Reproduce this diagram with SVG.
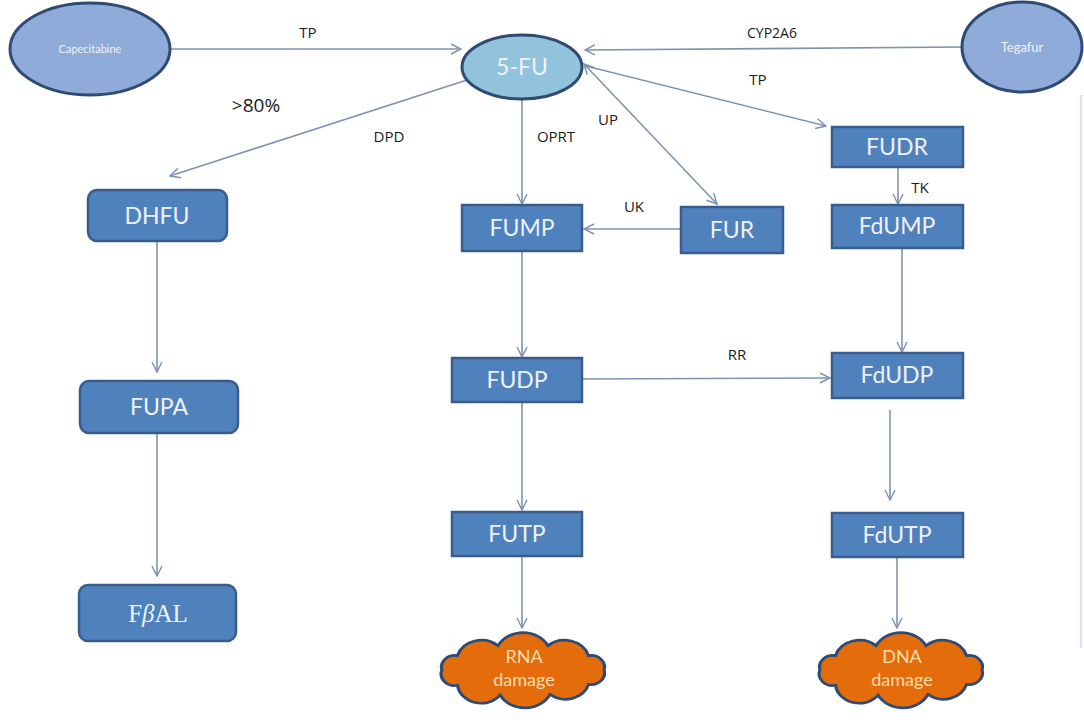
<svg xmlns="http://www.w3.org/2000/svg" width="1084" height="723" viewBox="0 0 1084 723">
<style>
.bg{fill:#ffffff}
.ell{stroke:#2f4b74;stroke-width:3}
.box{fill:#4f81bd;stroke:#385d8a;stroke-width:2.5}
.bt{font-family:Lato,"Open Sans",sans-serif;font-size:23px;fill:#eef2f8;text-anchor:middle}
.lbl{font-family:"Open Sans","Liberation Sans",sans-serif;font-size:15px;fill:#1a1a1a;text-anchor:middle}
.cn{fill:none;stroke:#7f93b0;stroke-width:1.6}
.cloud{fill:#e46c0a;stroke:#2f4b74;stroke-width:3}
.ct{font-family:Lato,"Open Sans",sans-serif;font-size:18px;fill:#f6dcae;text-anchor:middle}
</style>
<defs>
<marker id="ah" viewBox="0 0 12 12" refX="11" refY="6" markerWidth="12" markerHeight="12" markerUnits="userSpaceOnUse" orient="auto-start-reverse">
<path d="M1,1 L11,6 L1,11" fill="none" stroke="#7f93b0" stroke-width="1.5"/>
</marker>
<path id="cloudShape" d="M78,0 A13,13 0 0 1 63,16 A23,23 0 0 1 26,27 A27,27 0 0 1 -22,28 A23,23 0 0 1 -63,17 A13,13 0 0 1 -78,0 A13,13 0 0 1 -63,-16 A24,24 0 0 1 -24,-27 A27,27 0 0 1 24,-27 A24,24 0 0 1 63,-16 A13,13 0 0 1 78,0 Z"/>
</defs>
<rect class="bg" x="0" y="0" width="1084" height="723"/>
<line x1="1081" y1="95" x2="1081" y2="648" stroke="#e2def0" stroke-width="2.5"/>

<g id="connectors">
<path class="cn" d="M170,49 L461,49" marker-end="url(#ah)"/>
<path class="cn" d="M962,47 L585,50" marker-end="url(#ah)"/>
<path class="cn" d="M467,80 L170,176" marker-end="url(#ah)"/>
<path class="cn" d="M522,100 L522,204" marker-end="url(#ah)"/>
<path class="cn" d="M584,64 L717,204" marker-start="url(#ah)" marker-end="url(#ah)"/>
<path class="cn" d="M586,66 L826,126" marker-end="url(#ah)"/>
<path class="cn" d="M681,229 L584,229" marker-end="url(#ah)"/>
<path class="cn" d="M898,167 L898,204" marker-end="url(#ah)"/>
<path class="cn" d="M522,251 L522,357" marker-end="url(#ah)"/>
<path class="cn" d="M902,248 L902,352" marker-end="url(#ah)"/>
<path class="cn" d="M582,379 L830,378" marker-end="url(#ah)"/>
<path class="cn" d="M522,402 L522,510" marker-end="url(#ah)"/>
<path class="cn" d="M890,410 L890,500" marker-end="url(#ah)"/>
<path class="cn" d="M522,556 L522,628" marker-end="url(#ah)"/>
<path class="cn" d="M897,557 L897,628" marker-end="url(#ah)"/>
<path class="cn" d="M157,241 L157,372" marker-end="url(#ah)"/>
<path class="cn" d="M157,433 L157,576" marker-end="url(#ah)"/>
<text class="lbl" x="308" y="38">TP</text>
<text class="lbl" x="772" y="38" style="font-size:14px">CYP2A6</text>
<text class="lbl" x="758" y="85">TP</text>
<text class="lbl" x="256" y="112" style="font-size:19px">&gt;80%</text>
<text class="lbl" x="389" y="142">DPD</text>
<text class="lbl" x="556" y="142">OPRT</text>
<text class="lbl" x="608" y="125">UP</text>
<text class="lbl" x="634" y="212">UK</text>
<text class="lbl" x="920" y="193">TK</text>
<text class="lbl" x="737" y="360">RR</text>
</g>

<g id="capecitabine"><ellipse class="ell" cx="90" cy="49" rx="80" ry="46" fill="#8eabd9"/><text class="bt" x="90" y="53" style="font-size:11px">Capecitabine</text></g>
<g id="fu5"><ellipse class="ell" cx="522" cy="67" rx="60" ry="32" fill="#92c3dc"/><text class="bt" x="522" y="75" style="font-size:23px">5-FU</text></g>
<g id="tegafur"><ellipse class="ell" cx="1022" cy="47" rx="60" ry="45" fill="#8eabd9"/><text class="bt" x="1022" y="52" style="font-size:13px">Tegafur</text></g>

<g id="dhfu"><rect class="box" x="88" y="190" width="139" height="51" rx="9"/><text class="bt" x="157" y="224">DHFU</text></g>
<g id="fupa"><rect class="box" x="80" y="381" width="158" height="52" rx="9"/><text class="bt" x="159" y="415">FUPA</text></g>
<g id="fbal"><rect class="box" x="79" y="585" width="157" height="56" rx="9"/><text x="158" y="622" style="font-family:'Liberation Serif','DejaVu Serif',serif;font-size:25px;fill:#eef2f8;text-anchor:middle">F<tspan font-style="italic">β</tspan>AL</text></g>

<g id="fump"><rect class="box" x="462" y="205" width="120" height="46"/><text class="bt" x="522" y="236">FUMP</text></g>
<g id="fur"><rect class="box" x="681" y="207" width="102" height="46"/><text class="bt" x="732" y="238">FUR</text></g>
<g id="fudr"><rect class="box" x="832" y="127" width="131" height="40"/><text class="bt" x="897" y="155">FUDR</text></g>
<g id="fdump"><rect class="box" x="832" y="205" width="131" height="43"/><text class="bt" x="897" y="234">FdUMP</text></g>
<g id="fudp"><rect class="box" x="452" y="358" width="130" height="44"/><text class="bt" x="517" y="388">FUDP</text></g>
<g id="fdudp"><rect class="box" x="832" y="353" width="131" height="45"/><text class="bt" x="897" y="383">FdUDP</text></g>
<g id="futp"><rect class="box" x="452" y="512" width="130" height="44"/><text class="bt" x="517" y="542">FUTP</text></g>
<g id="fdutp"><rect class="box" x="832" y="513" width="131" height="44"/><text class="bt" x="897" y="543">FdUTP</text></g>

<g id="rna"><use href="#cloudShape" class="cloud" transform="translate(523,670) scale(1.04,0.9)"/><text class="ct" x="524" y="663">RNA</text><text class="ct" x="524" y="686">damage</text></g>
<g id="dna"><use href="#cloudShape" class="cloud" transform="translate(901,670) scale(1.04,0.9)"/><text class="ct" x="902" y="663">DNA</text><text class="ct" x="902" y="686">damage</text></g>
</svg>
